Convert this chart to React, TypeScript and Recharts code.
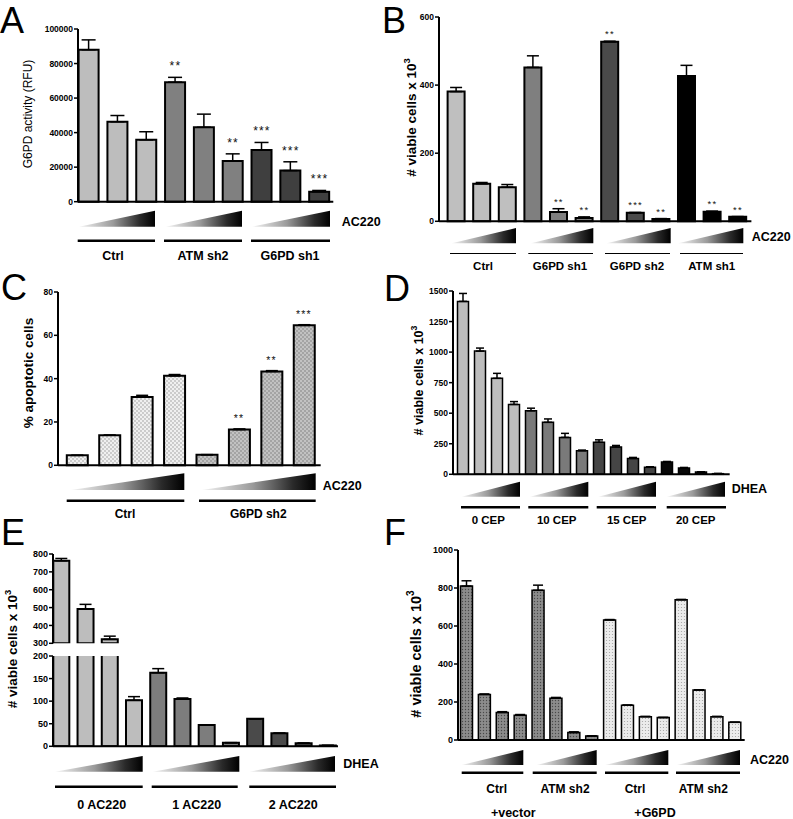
import { Bar, Cell, ComposedChart, ErrorBar, Scatter, XAxis, YAxis } from "recharts";

const FONT = "Arial, 'Liberation Sans', Helvetica, sans-serif";

// ---- A: G6PD activity
const aGroups = ["Ctrl", "ATM sh2", "G6PD sh1"];
const aValues = [88000, 46300, 35800, 69200, 43100, 23600, 29900, 18000, 5700];
const aErrTops = [93700, 49900, 40500, 72000, 50700, 27700, 34300, 23100, 6500];
const aSig = ["", "", "", "**", "", "**", "***", "***", "***"];
const aTicks = [0, 20000, 40000, 60000, 80000, 100000];

// ---- B: viable cells, 3 doses x 4 lines
const bGroups = ["Ctrl", "G6PD sh1", "G6PD sh2", "ATM sh1"];
const bValues = [381, 110, 100, 452, 27, 10, 527, 25, 7, 427, 28, 13];
const bErrTops = [393, 114, 108, 486, 37, 13, 529, 26, 8, 458, 30, 14];
const bSig = ["", "", "", "", "**", "**", "**", "***", "**", "", "**", "**"];
const bTicks = [0, 200, 400, 600];

// ---- C: % apoptotic cells
const cGroups = ["Ctrl", "G6PD sh2"];
const cValues = [4.6, 13.9, 31.5, 41.3, 4.9, 16.5, 43.3, 64.6];
const cErrTops = [4.6, 13.9, 32.3, 41.9, 4.9, 16.8, 43.7, 64.9];
const cSig = ["", "", "", "", "", "**", "**", "***"];
const cTicks = [0, 20, 40, 60, 80];

// ---- D: viable cells, DHEA x CEP
const dGroups = ["0 CEP", "10 CEP", "15 CEP", "20 CEP"];
const dValues = [1415, 1008, 785, 572, 520, 425, 302, 193, 262, 224, 130, 57, 100, 52, 18, 5];
const dErrTops = [1480, 1033, 826, 595, 541, 453, 335, 198, 282, 236, 138, 62, 105, 56, 21, 7];
const dTicks = [0, 250, 500, 750, 1000, 1250, 1500];

// ---- E: viable cells, DHEA x AC220 (broken axis)
const eGroups = ["0 AC220", "1 AC220", "2 AC220"];
const eValues = [762, 492, 322, 102, 163, 105, 47, 8, 61, 29, 7, 2];
const eErrTops = [775, 518, 340, 110, 172, 107, 47, 8, 61, 29, 7, 2];
const eTicksHigh = [300, 400, 500, 600, 700, 800];
const eTicksLow = [0, 50, 100, 150, 200];

// ---- F: viable cells, vector vs G6PD
const fGroups = ["vector Ctrl", "vector ATM sh2", "G6PD Ctrl", "G6PD ATM sh2"];
const fValues = [810, 240, 145, 130, 788, 220, 39, 21, 632, 183, 123, 118, 738, 263, 123, 93];
const fErrTops = [838, 242, 149, 134, 815, 224, 43, 22, 634, 184, 124, 119, 740, 264, 124, 94];
const fTicks = [0, 200, 400, 600, 800, 1000];

type Row = {
  name: string;
  value: number | null;
  err: [number, number];
  top: number | null;
  sig: string;
  fill: string;
};

function buildRows(
  groups: string[],
  values: number[],
  errTops: number[],
  sig: string[],
  fills: string[]
): Row[] {
  const per = values.length / groups.length;
  return values.map((v, i) => {
    const g = Math.floor(i / per);
    return {
      name: `${groups[g]} ${(i % per) + 1}`,
      value: v,
      err: [0, errTops[i] - v],
      top: sig[i] ? errTops[i] : null,
      sig: sig[i] || "",
      fill: fills[g],
    };
  });
}

const none = (n: number) => Array(n).fill("");

const aRows = buildRows(aGroups, aValues, aErrTops, aSig, ["#bdbdbd", "#808080", "#3f3f3f"]);
const bRows = buildRows(bGroups, bValues, bErrTops, bSig, ["#bfbfbf", "#7f7f7f", "#4a4a4a", "#000000"]);
const cRows = buildRows(cGroups, cValues, cErrTops, cSig, ["url(#dotLight)", "url(#dotMid)"]);
const dRows = buildRows(dGroups, dValues, dErrTops, none(16), ["#bdbdbd", "#7a7a7a", "#454545", "#080808"]);
const eRows = buildRows(eGroups, eValues, eErrTops, none(12), ["#bdbdbd", "#7d7d7d", "#4a4a4a"]);
// upper segment of the broken axis only shows bars reaching above its floor
const eRowsHigh = eRows.map((r) => ({
  ...r,
  value: (r.value as number) > eTicksHigh[0] ? r.value : null,
}));
const fRows = buildRows(fGroups, fValues, fErrTops, none(16), [
  "url(#dotDark)",
  "url(#dotDark)",
  "url(#dotPale)",
  "url(#dotPale)",
]);

type PanelProps = {
  rows: Row[];
  left: number;
  right: number;
  top: number;
  bottom: number;
  domain: [number, number];
  ticks: number[];
  padL: number;
  padR: number;
  barSize: number;
  capW: number;
  strokeW?: number;
  hideX?: boolean;
  clip?: boolean;
  tickSize?: number;
  starSize?: number;
  starDy?: number;
};

function Panel(p: PanelProps) {
  const yW = 48;
  const mTop = 16;
  const mRight = 6;
  const mBottom = 8;
  const xh = p.hideX ? 0 : 2;
  const plotW = p.right - p.left;
  const plotH = p.bottom - p.top;
  return (
    <div style={{ position: "absolute", left: p.left - yW, top: p.top - mTop }}>
      <ComposedChart
        width={yW + plotW + mRight}
        height={mTop + plotH + xh + mBottom}
        data={p.rows}
        margin={{ top: mTop, right: mRight, left: 0, bottom: mBottom }}
      >
        <XAxis
          dataKey="name"
          hide={p.hideX}
          height={xh}
          tick={false}
          tickLine={false}
          axisLine={{ stroke: "#000", strokeWidth: 2 }}
          padding={{ left: p.padL, right: p.padR }}
        />
        <YAxis
          type="number"
          domain={p.domain}
          ticks={p.ticks}
          interval={0}
          allowDataOverflow={!!p.clip}
          width={yW}
          tickSize={4}
          tickMargin={1}
          axisLine={{ stroke: "#000", strokeWidth: 2 }}
          tickLine={{ stroke: "#000", strokeWidth: 1.5 }}
          tick={{
            fontSize: p.tickSize ?? 8.5,
            fontWeight: 700,
            fill: "#000",
            fontFamily: FONT,
          }}
        />
        <Bar
          dataKey="value"
          barSize={p.barSize}
          stroke="#000"
          strokeWidth={p.strokeW ?? 2}
          isAnimationActive={false}
        >
          {p.rows.map((r, i) => (
            <Cell key={i} fill={r.fill} />
          ))}
          <ErrorBar dataKey="err" direction="y" width={p.capW} stroke="#000" strokeWidth={1.5} />
        </Bar>
        {p.starSize ? (
          <Scatter
            dataKey="top"
            isAnimationActive={false}
            shape={(s: any) =>
              s.payload && s.payload.sig ? (
                <text
                  x={s.cx}
                  y={s.cy - (p.starDy ?? 6)}
                  textAnchor="middle"
                  fontSize={p.starSize}
                  fontFamily={FONT}
                  letterSpacing={1.2}
                  fill="#111"
                >
                  {s.payload.sig}
                </text>
              ) : (
                <g />
              )
            }
          />
        ) : null}
      </ComposedChart>
    </div>
  );
}

type Deco = {
  wedgeY: [number, number];
  wedges: [number, number][];
  lineY: number;
  lineW: number;
  lines: [number, number][];
  labelY: number;
  labelSize: number;
  labels: string[];
  labelX: number[];
  tag: string;
  tagX: number;
  tagY: number;
};

const decos: Deco[] = [
  {
    wedgeY: [210.7, 226.7],
    wedges: [[79, 155], [165.7, 242], [252, 330]],
    lineY: 240.7,
    lineW: 2.5,
    lines: [[77.7, 155], [164, 242], [251, 330]],
    labelY: 259.5,
    labelSize: 12.5,
    labels: aGroups,
    labelX: [113, 203, 290],
    tag: "AC220",
    tagX: 341.7,
    tagY: 226,
  },
  {
    wedgeY: [228, 243.3],
    wedges: [[451.7, 516], [531, 593.3], [606.7, 670.7], [678.3, 743.3]],
    lineY: 253.5,
    lineW: 1,
    lines: [[450, 516], [528.3, 593], [605, 670], [680, 743]],
    labelY: 270,
    labelSize: 11.5,
    labels: bGroups,
    labelX: [483, 560, 637, 711.7],
    tag: "AC220",
    tagX: 751.7,
    tagY: 241,
  },
  {
    wedgeY: [473.3, 490],
    wedges: [[71, 184.3], [201.7, 315.7]],
    lineY: 500.7,
    lineW: 2.5,
    lines: [[66.7, 184.3], [199, 315.7]],
    labelY: 517.5,
    labelSize: 12,
    labels: cGroups,
    labelX: [125, 258.3],
    tag: "AC220",
    tagX: 322.7,
    tagY: 489.5,
  },
  {
    wedgeY: [481.7, 496.7],
    wedges: [[461.7, 520], [530, 588.3], [598.3, 656], [666.7, 725]],
    lineY: 507.3,
    lineW: 2.5,
    lines: [[461, 520], [528.3, 588.3], [596.7, 656], [666.7, 726]],
    labelY: 523.5,
    labelSize: 11.5,
    labels: dGroups,
    labelX: [488.3, 556.7, 626.7, 695.7],
    tag: "DHEA",
    tagX: 731.7,
    tagY: 493,
  },
  {
    wedgeY: [756, 771.7],
    wedges: [[55, 142.7], [152.7, 239.3], [249.3, 335]],
    lineY: 786.7,
    lineW: 2.5,
    lines: [[55, 142.7], [151.7, 237.7], [249.3, 336]],
    labelY: 808.5,
    labelSize: 12.5,
    labels: eGroups,
    labelX: [101.7, 196.7, 293.3],
    tag: "DHEA",
    tagX: 343.3,
    tagY: 768,
  },
  {
    wedgeY: [750, 765],
    wedges: [[461.7, 523.3], [536.7, 596.7], [605, 668.3], [676.7, 740]],
    lineY: 772.7,
    lineW: 2.5,
    lines: [[461.7, 523.3], [532.7, 596.7], [605, 668.3], [676, 740]],
    labelY: 792.5,
    labelSize: 12,
    labels: ["Ctrl", "ATM sh2", "Ctrl", "ATM sh2"],
    labelX: [496.7, 565, 635, 703.3],
    tag: "AC220",
    tagX: 750,
    tagY: 764,
  },
];

const panelLetters = [
  { t: "A", x: 0, y: 33 },
  { t: "B", x: 382, y: 33 },
  { t: "C", x: 1, y: 300 },
  { t: "D", x: 384, y: 301 },
  { t: "E", x: 1, y: 545 },
  { t: "F", x: 384, y: 545 },
];

const yLabels = [
  { x: 27.5, y: 114, size: 12, weight: "normal", text: "G6PD activity (RFU)", sup: "" },
  { x: 411, y: 117.5, size: 13.5, weight: "bold", text: "# viable cells x 10", sup: "3" },
  { x: 28.5, y: 373, size: 13.5, weight: "bold", text: "% apoptotic cells", sup: "" },
  { x: 419, y: 380.5, size: 12.5, weight: "bold", text: "# viable cells x 10", sup: "3" },
  { x: 12, y: 649, size: 13.5, weight: "bold", text: "# viable cells x 10", sup: "3" },
  { x: 416, y: 654, size: 14.5, weight: "bold", text: "# viable cells x 10", sup: "3" },
];

function Overlay() {
  return (
    <svg
      width={793}
      height={819}
      style={{ position: "absolute", left: 0, top: 0, pointerEvents: "none" }}
      fontFamily={FONT}
    >
      <defs>
        <linearGradient id="wedgeGrad" x1="0" y1="0" x2="1" y2="0">
          <stop offset="0%" stopColor="#f4f4f4" />
          <stop offset="45%" stopColor="#9a9a9a" />
          <stop offset="80%" stopColor="#2a2a2a" />
          <stop offset="100%" stopColor="#000" />
        </linearGradient>
        <pattern id="dotLight" width="4" height="4" patternUnits="userSpaceOnUse">
          <rect width="4" height="4" fill="#f0f0f0" />
          <circle cx="1" cy="1" r="0.65" fill="#8a8a8a" />
          <circle cx="3" cy="3" r="0.65" fill="#8a8a8a" />
        </pattern>
        <pattern id="dotMid" width="4" height="4" patternUnits="userSpaceOnUse">
          <rect width="4" height="4" fill="#c2c2c2" />
          <circle cx="1" cy="1" r="0.7" fill="#6e6e6e" />
          <circle cx="3" cy="3" r="0.7" fill="#6e6e6e" />
        </pattern>
        <pattern id="dotDark" width="3" height="3" patternUnits="userSpaceOnUse">
          <rect width="3" height="3" fill="#8c8c8c" />
          <circle cx="1.5" cy="1.5" r="0.7" fill="#4a4a4a" />
        </pattern>
        <pattern id="dotPale" width="3" height="3" patternUnits="userSpaceOnUse">
          <rect width="3" height="3" fill="#ebebeb" />
          <circle cx="1.5" cy="1.5" r="0.6" fill="#a0a0a0" />
        </pattern>
      </defs>

      {panelLetters.map((l) => (
        <text key={l.t} x={l.x} y={l.y} fontSize={36} fill="#000">
          {l.t}
        </text>
      ))}

      {yLabels.map((l, i) => (
        <text
          key={i}
          transform={`translate(${l.x},${l.y}) rotate(-90)`}
          textAnchor="middle"
          dominantBaseline="central"
          fontSize={l.size}
          fontWeight={l.weight}
          fill="#000"
        >
          {l.text}
          {l.sup ? (
            <tspan fontSize={l.size * 0.7} dy={-l.size * 0.4}>
              {l.sup}
            </tspan>
          ) : null}
        </text>
      ))}

      {decos.map((d, k) => (
        <g key={k}>
          {d.wedges.map(([x1, x2], i) => (
            <polygon
              key={`w${i}`}
              points={`${x1},${d.wedgeY[1]} ${x2},${d.wedgeY[0]} ${x2},${d.wedgeY[1]}`}
              fill="url(#wedgeGrad)"
            />
          ))}
          {d.lines.map(([x1, x2], i) => (
            <line key={`l${i}`} x1={x1} x2={x2} y1={d.lineY} y2={d.lineY} stroke="#000" strokeWidth={d.lineW} />
          ))}
          {d.labels.map((t, i) => (
            <text
              key={`t${i}`}
              x={d.labelX[i]}
              y={d.labelY}
              textAnchor="middle"
              fontSize={d.labelSize}
              fontWeight="bold"
              fill="#000"
            >
              {t}
            </text>
          ))}
          <text x={d.tagX} y={d.tagY} fontSize={12.5} fontWeight="bold" fill="#000">
            {d.tag}
          </text>
        </g>
      ))}

      <text x={513.3} y={817} textAnchor="middle" fontSize={12.5} fontWeight="bold">
        +vector
      </text>
      <text x={655} y={817} textAnchor="middle" fontSize={12.5} fontWeight="bold">
        +G6PD
      </text>
    </svg>
  );
}

export default function App() {
  return (
    <div
      style={{
        position: "absolute",
        left: 0,
        top: 0,
        width: 793,
        height: 819,
        background: "#fff",
        overflow: "hidden",
      }}
    >
      <Panel
        rows={aRows}
        left={77.7}
        right={333}
        top={29}
        bottom={201.7}
        domain={[0, 100000]}
        ticks={aTicks}
        padL={-3.4}
        padR={-0.7}
        barSize={20}
        capW={7}
        starSize={12}
        starDy={7}
      />
      <Panel
        rows={bRows}
        left={439.3}
        right={751.7}
        top={16.7}
        bottom={221}
        domain={[0, 600]}
        ticks={bTicks}
        padL={4.6}
        padR={0.6}
        barSize={17}
        capW={6}
        starSize={9.5}
        starDy={4}
      />
      <Panel
        rows={cRows}
        left={58.3}
        right={321}
        top={291.7}
        bottom={465}
        domain={[0, 80]}
        ticks={cTicks}
        padL={2.8}
        padR={0.5}
        barSize={21}
        capW={6}
        starSize={10.5}
        starDy={6.5}
      />
      <Panel
        rows={dRows}
        left={453.3}
        right={730}
        top={290.7}
        bottom={474}
        domain={[0, 1500]}
        ticks={dTicks}
        padL={1.5}
        padR={3.2}
        barSize={11}
        capW={4}
        strokeW={1.5}
      />
      <Panel
        rows={eRowsHigh}
        left={53.3}
        right={338.3}
        top={554}
        bottom={643.3}
        domain={[300, 800]}
        ticks={eTicksHigh}
        padL={-3.7}
        padR={-2.1}
        barSize={16}
        capW={6}
        hideX
        clip
        tickSize={9}
      />
      <Panel
        rows={eRows}
        left={53.3}
        right={338.3}
        top={655.7}
        bottom={746}
        domain={[0, 200]}
        ticks={eTicksLow}
        padL={-3.7}
        padR={-2.1}
        barSize={16}
        capW={6}
        clip
        tickSize={9}
      />
      <Panel
        rows={fRows}
        left={458.3}
        right={745}
        top={550}
        bottom={740}
        domain={[0, 1000]}
        ticks={fTicks}
        padL={-0.5}
        padR={1}
        barSize={12}
        capW={5}
        strokeW={1.5}
        tickSize={9}
      />
      <Overlay />
    </div>
  );
}
